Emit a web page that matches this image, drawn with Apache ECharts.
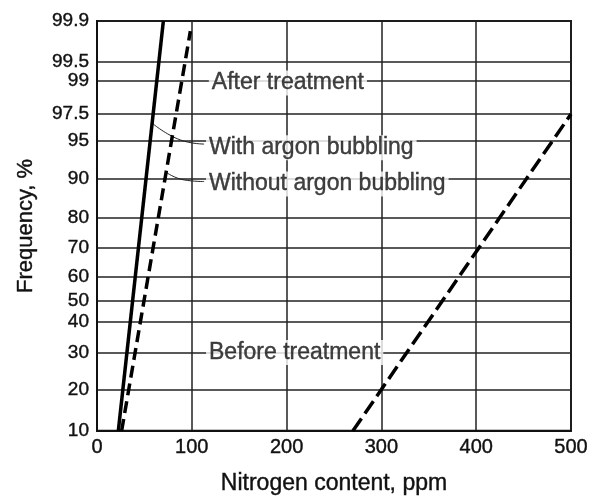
<!DOCTYPE html>
<html>
<head>
<meta charset="utf-8">
<script src="https://cdn.jsdelivr.net/npm/echarts@6/dist/echarts.min.js"></script>
<style>
  html, body { margin: 0; padding: 0; background: #fff; }
  #chart { width: 600px; height: 500px; }
</style>
</head>
<body>
<div id="chart"></div>
<script>
// probability paper: frequency tick -> height on the sheet (0 = bottom, 100 = top)
var freqTicks = [10, 20, 30, 40, 50, 60, 70, 80, 90, 95, 97.5, 99, 99.5, 99.9]
var freqTickPos = [0, 9.9, 19.1, 26.5, 31.7, 37.6, 44.6, 51.9, 61.6, 70.7, 77.3, 85.4, 90.1, 100]
var xTicks = [0, 100, 200, 300, 400, 500]

// lines (nitrogen ppm, frequency %)
var withArgonN = [22.5, 70]
var withArgonF = [10, 99.9]
var withoutArgonN = [26, 98.5]
var withoutArgonF = [10, 99.8]
var beforeN = [270, 500]
var beforeF = [10, 97.5]

// leader lines of the annotations
var leaderWithN = [59, 88, 113]
var leaderWithF = [96.6, 95.1, 94.6]
var leaderWithoutN = [73, 92, 113]
var leaderWithoutF = [90.8, 89.6, 89.2]

// annotation texts
var notes = [
  { text: 'After treatment', n: 118, f: 98.9 },
  { text: 'With argon bubbling', n: 115, f: 94.1 },
  { text: 'Without argon bubbling', n: 115, f: 88.6 },
  { text: 'Before treatment', n: 115, f: 30 }
]

function freqToPos(f) {
  for (var i = 1; i < freqTicks.length; i++) {
    if (f <= freqTicks[i]) {
      var t = (f - freqTicks[i - 1]) / (freqTicks[i] - freqTicks[i - 1])
      return freqTickPos[i - 1] + t * (freqTickPos[i] - freqTickPos[i - 1])
    }
  }
  return 100
}

function pairs(ns, fs) {
  var out = []
  for (var i = 0; i < ns.length; i++) out.push([ns[i], freqToPos(fs[i])])
  return out
}

var font = 'Liberation Sans, Arial, sans-serif'
// a thin stroke makes the text as heavy as the scanned print
var ink = { color: '#111', textBorderColor: '#111', textBorderWidth: 0.4 }
var chart = echarts.init(document.getElementById('chart'))

var option = {
  animation: false,
  backgroundColor: '#fff',
  grid: {
    left: 97, right: 29, top: 21, bottom: 67,
    show: true, borderColor: '#111', borderWidth: 2
  },
  xAxis: {
    type: 'value',
    min: 0, max: 500, interval: 100,
    name: 'Nitrogen content, ppm',
    nameLocation: 'middle',
    nameGap: 41,
    nameTextStyle: Object.assign({ fontFamily: font, fontSize: 23 }, ink),
    axisLine: { lineStyle: { color: '#111', width: 2 } },
    axisTick: { show: false },
    axisLabel: Object.assign({ fontFamily: font, fontSize: 20, margin: 7 }, ink),
    splitLine: { show: true, lineStyle: { color: '#222', width: 1.5 } }
  },
  yAxis: {
    type: 'value',
    min: 0, max: 100,
    name: 'Frequency, %',
    nameLocation: 'middle',
    nameRotate: 90,
    nameGap: 60,
    nameTextStyle: Object.assign({ fontFamily: font, fontSize: 22 }, ink),
    axisLine: { lineStyle: { color: '#111', width: 2 } },
    axisTick: { show: false, customValues: freqTickPos },
    axisLabel: Object.assign({
      customValues: freqTickPos,
      fontFamily: font, fontSize: 19, margin: 8,
      formatter: function (v) {
        for (var i = 0; i < freqTickPos.length; i++) {
          if (Math.abs(freqTickPos[i] - v) < 0.01) return String(freqTicks[i])
        }
        return ''
      }
    }, ink),
    splitLine: { show: true, lineStyle: { color: '#222', width: 1.5 } }
  },
  series: [
    {
      name: 'With argon bubbling',
      type: 'line',
      data: pairs(withArgonN, withArgonF),
      showSymbol: false,
      lineStyle: { color: '#000', width: 3.5 },
      z: 5
    },
    {
      name: 'Without argon bubbling',
      type: 'line',
      data: pairs(withoutArgonN, withoutArgonF),
      showSymbol: false,
      lineStyle: { color: '#000', width: 3.5, type: [12, 6] },
      z: 5
    },
    {
      name: 'Before treatment',
      type: 'line',
      data: pairs(beforeN, beforeF),
      showSymbol: false,
      lineStyle: { color: '#000', width: 3.5, type: [15, 6] },
      z: 5
    },
    {
      type: 'line',
      data: pairs(leaderWithN, leaderWithF),
      smooth: true,
      showSymbol: false,
      lineStyle: { color: '#222', width: 1 },
      z: 4
    },
    {
      type: 'line',
      data: pairs(leaderWithoutN, leaderWithoutF),
      smooth: true,
      showSymbol: false,
      lineStyle: { color: '#222', width: 1 },
      z: 4
    },
    {
      type: 'scatter',
      symbolSize: 0,
      z: 6,
      data: notes.map(function (d) {
        return { value: [d.n, freqToPos(d.f)], name: d.text }
      }),
      label: Object.assign({
        show: true,
        position: 'right',
        distance: 0,
        formatter: '{b}',
        fontFamily: font,
        fontSize: 23,
        backgroundColor: '#fff',
        padding: [1, 3]
      }, ink)
    }
  ]
}

chart.setOption(option)
</script>
</body>
</html>
